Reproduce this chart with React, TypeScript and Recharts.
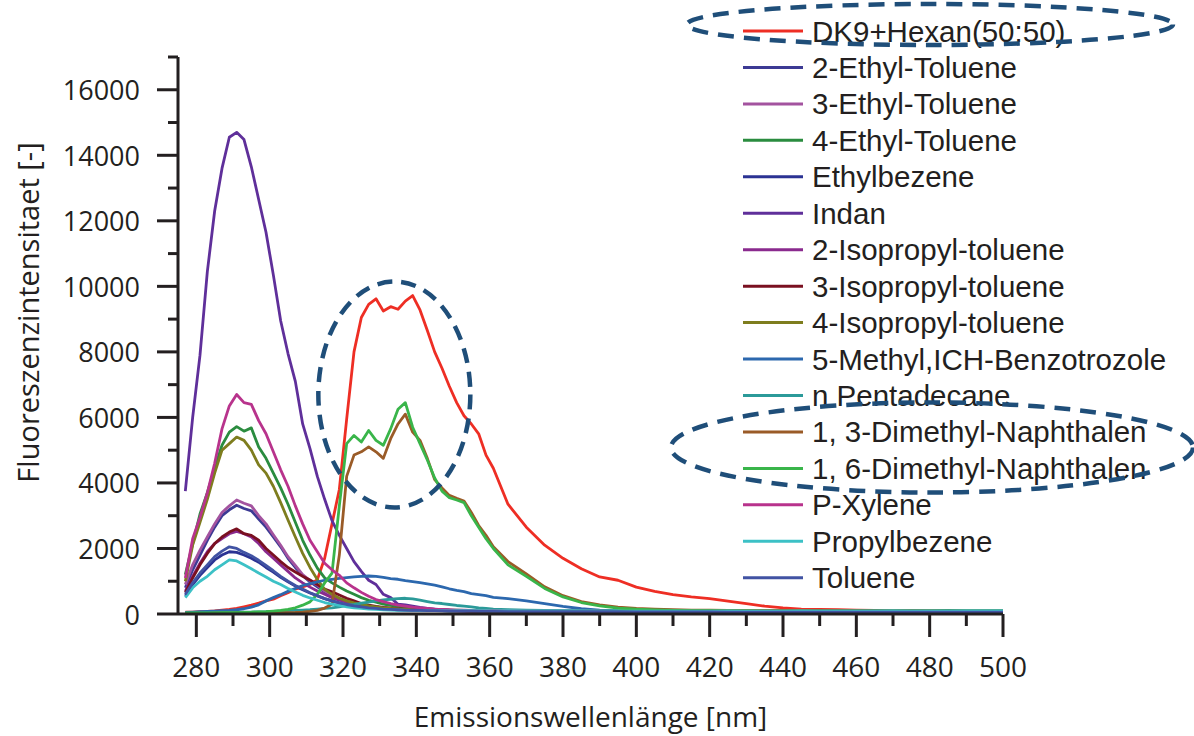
import React from 'react';
import { LineChart, Line, XAxis, YAxis, Legend, ReferenceDot } from 'recharts';

// Emission wavelength grid in nm: 2 nm steps across the bands, 5 nm steps in the tail
const wavelengths = [
  277, 279, 281, 283, 285, 287, 289, 291, 293, 295,
  297, 299, 301, 303, 305, 307, 309, 311, 313, 315,
  317, 319, 321, 323, 325, 327, 329, 331, 333, 335,
  337, 339, 341, 343, 345, 347, 349, 351, 353, 355,
  357, 359, 361,
  365, 370, 375, 380, 385, 390, 395, 400, 405, 410,
  415, 420, 425, 430, 435, 440, 445, 450, 455, 460,
  465, 470, 475, 480, 485, 490, 495, 500,
];

// Fluorescence intensity of each sample on the wavelength grid
const dk9Hexan = [
  60, 55, 70, 80, 95, 120, 140, 170, 220, 270,
  330, 400, 450, 560, 650, 760, 830, 900, 1050, 1700,
  2750, 3800, 5950, 8000, 9050, 9450, 9620, 9250, 9380, 9300,
  9550, 9720, 9280, 8650, 8000, 7500, 6950, 6450, 6050, 5800,
  5500, 4850, 4450,
  3350, 2650, 2100, 1700, 1380, 1130, 1030, 820, 690, 590,
  520, 470, 390, 320, 240, 185, 150, 140, 130, 120,
  110, 100, 100, 95, 90, 90, 85, 85,
];
const ethyl2Toluene = [
  800, 1350, 1800, 2250, 2650, 3000, 3180, 3320, 3220, 3150,
  2900, 2650, 2350, 2050, 1700, 1420, 1170, 980, 830, 680,
  560, 460, 390, 330, 280, 240, 210, 185, 165, 150,
  140, 130, 120, 115, 110, 105, 100, 100, 95, 95,
  90, 90, 90,
  85, 85, 80, 80, 80, 80, 75, 75, 75, 75,
  75, 70, 70, 70, 70, 70, 70, 70, 70, 70,
  70, 70, 70, 70, 70, 70, 70, 70,
];
const ethyl3Toluene = [
  900, 1500, 1950, 2350, 2750, 3100, 3300, 3480, 3380, 3300,
  3000, 2750, 2420, 2100, 1750, 1480, 1200, 1020, 880, 700,
  580, 480, 400, 340, 290, 250, 220, 190, 170, 155,
  145, 135, 125, 120, 115, 110, 105, 100, 100, 95,
  95, 90, 90,
  90, 85, 85, 85, 80, 80, 80, 80, 80, 75,
  75, 75, 75, 75, 75, 75, 75, 75, 75, 75,
  75, 75, 75, 75, 75, 75, 75, 75,
];
const ethyl4Toluene = [
  1200, 2150, 3050, 3700, 4450, 5150, 5550, 5720, 5580, 5680,
  5100, 4750, 4300, 3850, 3350, 2800, 2250, 1800, 1400, 1100,
  950, 820, 700, 600, 500, 420, 360, 300, 260, 230,
  200, 180, 160, 150, 140, 130, 120, 115, 110, 105,
  100, 100, 95,
  90, 90, 85, 85, 85, 80, 80, 80, 80, 80,
  80, 80, 80, 80, 80, 80, 80, 80, 80, 80,
  80, 80, 80, 80, 80, 80, 80, 80,
];
const ethylbezene = [
  550, 900, 1180, 1420, 1650, 1800, 1900, 1880, 1800, 1700,
  1580, 1420, 1280, 1120, 980, 850, 740, 640, 550, 470,
  400, 340, 290, 250, 220, 190, 170, 150, 140, 130,
  120, 115, 110, 105, 100, 100, 95, 95, 90, 90,
  90, 85, 85,
  80, 80, 80, 75, 75, 75, 70, 70, 70, 70,
  65, 65, 65, 65, 65, 65, 60, 60, 60, 60,
  60, 60, 60, 60, 60, 60, 60, 60,
];
const indan = [
  3750, 6000, 7900, 10450, 12300, 13600, 14550, 14700, 14480, 13650,
  12650, 11650, 10350, 8950, 7950, 7100, 5800, 5050, 4200, 3500,
  2850, 2400, 2000, 1600, 1300, 1030, 900, 600, 500, 300,
  280, 240, 200, 170, 150, 130, 115, 105, 100, 95,
  90, 90, 85,
  80, 80, 75, 75, 75, 70, 70, 70, 70, 70,
  70, 65, 65, 65, 65, 65, 65, 65, 65, 65,
  65, 65, 65, 65, 65, 65, 65, 65,
];
const isopropyl2Toluene = [
  700, 1150, 1550, 1900, 2150, 2300, 2450, 2520, 2450, 2350,
  2150, 1900, 1700, 1500, 1300, 1100, 950, 820, 700, 600,
  500, 420, 360, 300, 260, 220, 190, 170, 150, 140,
  130, 120, 115, 110, 105, 100, 100, 95, 95, 90,
  90, 90, 85,
  85, 80, 80, 80, 75, 75, 75, 75, 70, 70,
  70, 70, 70, 70, 70, 70, 70, 70, 70, 70,
  70, 70, 70, 70, 70, 70, 70, 70,
];
const isopropyl3Toluene = [
  650, 1100, 1500, 1850, 2150, 2350, 2500, 2600, 2450, 2400,
  2250, 2000, 1800, 1600, 1420, 1280, 1150, 1040, 900, 760,
  680, 580, 480, 400, 320, 270, 230, 200, 180, 160,
  150, 140, 130, 120, 115, 110, 105, 100, 100, 95,
  95, 90, 90,
  85, 85, 80, 80, 80, 75, 75, 75, 75, 70,
  70, 70, 70, 70, 70, 70, 70, 70, 70, 70,
  70, 70, 70, 70, 70, 70, 70, 70,
];
const isopropyl4Toluene = [
  1000, 2100, 2800, 3500, 4300, 5000, 5200, 5400, 5300, 5000,
  4550, 4300, 3900, 3400, 2870, 2350, 1850, 1420, 1050, 750,
  600, 480, 400, 340, 290, 250, 220, 190, 170, 155,
  145, 135, 125, 120, 115, 110, 105, 100, 100, 95,
  95, 90, 90,
  90, 85, 85, 80, 80, 80, 80, 75, 75, 75,
  75, 75, 75, 75, 75, 75, 75, 75, 75, 75,
  75, 75, 75, 75, 75, 75, 75, 75,
];
const methylBenzotrozole = [
  50, 60, 70, 80, 90, 100, 110, 130, 160, 210,
  280, 400, 500, 590, 690, 780, 870, 930, 980, 1030,
  1060, 1090, 1110, 1130, 1150, 1160, 1150, 1120, 1080, 1060,
  1020, 990, 960, 920, 880, 830, 770, 720, 680, 620,
  590, 560, 510,
  470, 400, 320, 230, 160, 120, 95, 85, 80, 75,
  75, 70, 70, 70, 70, 70, 70, 70, 70, 70,
  70, 70, 70, 70, 70, 70, 70, 70,
];
const nPentadecane = [
  30, 30, 35, 35, 40, 40, 45, 50, 55, 60,
  65, 70, 80, 90, 100, 110, 120, 130, 150, 170,
  190, 220, 260, 290, 330, 360, 400, 430, 450, 470,
  480, 460, 420, 380, 340, 320, 290, 260, 240, 220,
  190, 170, 150,
  135, 120, 110, 105, 100, 100, 100, 100, 105, 100,
  100, 100, 100, 105, 100, 100, 100, 105, 100, 100,
  105, 100, 100, 105, 110, 105, 105, 105,
];
const dimethylNaphthalene13 = [
  20, 20, 20, 20, 25, 25, 25, 30, 30, 30,
  30, 35, 35, 40, 45, 50, 60, 80, 110, 180,
  300, 1800, 4200, 4850, 4950, 5100, 4950, 4750, 5350, 5800,
  6100, 5550, 5300, 4750, 4100, 3850, 3620, 3530, 3450, 3100,
  2700, 2400, 2050,
  1600, 1220, 830, 560, 380, 280, 210, 170, 145, 130,
  120, 115, 110, 105, 100, 100, 100, 95, 95, 95,
  90, 90, 90, 90, 90, 90, 90, 90,
];
const dimethylNaphthalene16 = [
  30, 30, 30, 35, 35, 40, 40, 45, 50, 55,
  65, 75, 90, 110, 140, 190, 270, 370, 600, 950,
  1250, 3300, 5200, 5450, 5250, 5600, 5300, 5150, 5650, 6250,
  6450, 5700, 5200, 4700, 4150, 3750, 3550, 3480, 3400, 3000,
  2650, 2300, 2000,
  1500, 1150, 780, 520, 350, 250, 180, 145, 125, 110,
  105, 100, 95, 95, 90, 90, 90, 90, 90, 85,
  85, 85, 85, 85, 85, 85, 85, 85,
];
const pXylene = [
  1100, 2300, 2950, 3700, 4600, 5650, 6350, 6700, 6450, 6400,
  5900, 5500, 4950, 4400, 3900, 3300, 2750, 2250, 1900, 1550,
  1350, 1180, 950, 800, 660, 540, 440, 380, 320, 270,
  240, 210, 190, 170, 150, 140, 130, 120, 115, 110,
  105, 100, 100,
  95, 90, 90, 85, 85, 85, 80, 80, 80, 80,
  80, 75, 75, 75, 75, 75, 75, 75, 75, 75,
  75, 75, 75, 75, 75, 75, 75, 75,
];
const propylbezene = [
  500, 800, 1000, 1150, 1350, 1500, 1650, 1620, 1500, 1380,
  1250, 1130, 1000, 900, 780, 670, 570, 490, 420, 350,
  300, 260, 220, 190, 170, 150, 140, 130, 120, 115,
  110, 110, 105, 105, 100, 100, 95, 100, 100, 105,
  100, 100, 95,
  100, 95, 95, 95, 95, 90, 90, 90, 90, 90,
  90, 90, 95, 90, 90, 90, 95, 90, 90, 90,
  90, 95, 90, 90, 90, 95, 95, 95,
];
const toluene = [
  600, 950, 1250, 1500, 1750, 1920, 2050, 2000, 1880, 1780,
  1640, 1480, 1320, 1150, 1000, 870, 760, 650, 560, 470,
  400, 340, 290, 250, 220, 190, 170, 150, 140, 130,
  120, 115, 110, 105, 100, 95, 90, 90, 85, 85,
  80, 80, 80,
  75, 75, 75, 70, 70, 70, 70, 65, 65, 65,
  65, 65, 60, 60, 60, 60, 60, 60, 60, 60,
  60, 60, 60, 60, 60, 60, 60, 60,
];

// Axis ticks: labelled majors and unlabelled minors
const xMajorTicks = [280, 300, 320, 340, 360, 380, 400, 420, 440, 460, 480, 500];
const xMinorTicks = [290, 310, 330, 350, 370, 390, 410, 430, 450, 470, 490];
const yMajorTicks = [0, 2000, 4000, 6000, 8000, 10000, 12000, 14000, 16000];
const yMinorTicks = [1000, 3000, 5000, 7000, 9000, 11000, 13000, 15000, 17000];

const xTitle = 'Emissionswellenlänge [nm]';
const yTitle = 'Fluoreszenzintensitaet [-]';

// Series definitions in legend / drawing order
const SERIES = [
  { key: 'dk9', name: 'DK9+Hexan(50:50)', color: '#ee2e24', values: dk9Hexan },
  { key: 'et2', name: '2-Ethyl-Toluene', color: '#3c3a94', values: ethyl2Toluene },
  { key: 'et3', name: '3-Ethyl-Toluene', color: '#a3539f', values: ethyl3Toluene },
  { key: 'et4', name: '4-Ethyl-Toluene', color: '#2a8c3f', values: ethyl4Toluene },
  { key: 'eb', name: 'Ethylbezene', color: '#2b3393', values: ethylbezene },
  { key: 'ind', name: 'Indan', color: '#5f2f9a', values: indan },
  { key: 'ip2', name: '2-Isopropyl-toluene', color: '#8a2a8e', values: isopropyl2Toluene },
  { key: 'ip3', name: '3-Isopropyl-toluene', color: '#7a1020', values: isopropyl3Toluene },
  { key: 'ip4', name: '4-Isopropyl-toluene', color: '#7e7d1e', values: isopropyl4Toluene },
  { key: 'mbt', name: '5-Methyl,ICH-Benzotrozole', color: '#2c68ae', values: methylBenzotrozole },
  { key: 'pd', name: 'n Pentadecane', color: '#2b9a99', values: nPentadecane },
  { key: 'dmn13', name: '1, 3-Dimethyl-Naphthalen', color: '#9a5b27', values: dimethylNaphthalene13 },
  { key: 'dmn16', name: '1, 6-Dimethyl-Naphthalen', color: '#39b54a', values: dimethylNaphthalene16 },
  { key: 'px', name: 'P-Xylene', color: '#b8338c', values: pXylene },
  { key: 'pb', name: 'Propylbezene', color: '#3cc1c6', values: propylbezene },
  { key: 'tol', name: 'Toluene', color: '#4153a3', values: toluene },
];

const rows = wavelengths.map((nm, i) => {
  const row: Record<string, number> = { nm };
  SERIES.forEach((s) => {
    row[s.key] = s.values[i];
  });
  return row;
});

const xTicks = [...xMajorTicks, ...xMinorTicks].sort((a, b) => a - b);
const yTicks = [...yMajorTicks, ...yMinorTicks].sort((a, b) => a - b);

const INK = '#231f20';
const MARK = '#1f4e79';
const AXIS_FONT = "'Open Sans', 'DejaVu Sans', sans-serif";
const LEGEND_FONT = "'Liberation Sans', Arial, sans-serif";

const renderXTick = (props: any) => {
  const { x, y, payload } = props;
  const major = xMajorTicks.includes(payload.value);
  return (
    <g>
      <line x1={x} x2={x} y1={y} y2={y + (major ? 23 : 12)} stroke={INK} strokeWidth={3} />
      {major && (
        <text x={x} y={y + 52} textAnchor="middle" dominantBaseline="central"
          fontFamily={AXIS_FONT} fontSize={28} fill={INK}>
          {payload.value}
        </text>
      )}
    </g>
  );
};

const renderYTick = (props: any) => {
  const { x, y, payload } = props;
  const major = yMajorTicks.includes(payload.value);
  return (
    <g>
      <line x1={x - (major ? 21 : 10)} x2={x} y1={y} y2={y} stroke={INK} strokeWidth={3} />
      {major && (
        <text x={x - 38} y={y} textAnchor="end" dominantBaseline="central"
          fontFamily={AXIS_FONT} fontSize={27} fill={INK}>
          {payload.value}
        </text>
      )}
    </g>
  );
};

const renderYTitle = (props: any) => {
  const vb = props.viewBox || { x: 0, y: 0, width: 0, height: 0 };
  const cx = vb.x + 27;
  const cy = vb.y + vb.height / 2 - 23;
  return (
    <text transform={`translate(${cx},${cy}) rotate(-90)`} textAnchor="middle" dominantBaseline="central"
      fontFamily={AXIS_FONT} fontSize={29} fill={INK}>
      {yTitle}
    </text>
  );
};

// Legend row geometry
const ROW_TOP = 31;
const ROW_STEP = 36.45;
const rowY = (i: number) => ROW_TOP + i * ROW_STEP;

const SpectraLegend = (props: any) => {
  const payload: any[] = props.payload || [];
  const ordered = SERIES.map((s) => payload.find((p) => p.dataKey === s.key) || { value: s.name, color: s.color });
  return (
    <svg width={1194} height={736} style={{ position: 'absolute', left: 0, top: 0, overflow: 'visible' }}>
      {ordered.map((item: any, i: number) => (
        <g key={item.value}>
          <line x1={743} x2={803} y1={rowY(i)} y2={rowY(i)} stroke={item.color} strokeWidth={3} />
          <text x={812} y={rowY(i) + 10.5} fontFamily={LEGEND_FONT} fontSize={29.5} fill={INK}>
            {item.value}
          </text>
        </g>
      ))}
      <ellipse cx={930} cy={rowY(0) - 6.5} rx={243} ry={20.5} fill="none"
        stroke={MARK} strokeWidth={4.5} strokeDasharray="16 10" />
      <ellipse cx={932} cy={(rowY(11) + rowY(12)) / 2 - 2.7} rx={261} ry={45} fill="none"
        stroke={MARK} strokeWidth={4.5} strokeDasharray="16 10" />
    </svg>
  );
};

const highlightShape = (props: any) => (
  <ellipse cx={props.cx} cy={props.cy} rx={76} ry={113} fill="none"
    stroke={MARK} strokeWidth={4.5} strokeDasharray="15 9" />
);

export default function App() {
  return (
    <div style={{ position: 'absolute', left: 0, top: 0, width: 1194, height: 736, background: '#ffffff' }}>
      <LineChart width={1194} height={736} data={rows} margin={{ top: 57, right: 191, bottom: 0, left: 0 }}>
        <XAxis
          dataKey="nm"
          type="number"
          domain={[275, 500]}
          ticks={xTicks}
          interval={0}
          tickSize={0}
          tickMargin={0}
          tickLine={false}
          axisLine={{ stroke: INK, strokeWidth: 3 }}
          tick={renderXTick}
          height={122}
          label={{ value: xTitle, position: 'insideBottom', offset: 9, fill: INK, fontSize: 28, fontFamily: AXIS_FONT }}
        />
        <YAxis
          type="number"
          domain={[0, 17000]}
          ticks={yTicks}
          interval={0}
          tickSize={0}
          tickMargin={0}
          tickLine={false}
          axisLine={{ stroke: INK, strokeWidth: 3 }}
          tick={renderYTick}
          width={178}
          label={{ value: yTitle, content: renderYTitle }}
        />
        {SERIES.map((s) => (
          <Line
            key={s.key}
            dataKey={s.key}
            name={s.name}
            type="linear"
            stroke={s.color}
            strokeWidth={2.8}
            strokeLinejoin="round"
            dot={false}
            activeDot={false}
            isAnimationActive={false}
          />
        ))}
        <ReferenceDot x={334} y={6700} r={0} ifOverflow="visible" shape={highlightShape} />
        <Legend
          layout="vertical"
          align="center"
          verticalAlign="middle"
          content={<SpectraLegend />}
          wrapperStyle={{ left: 0, top: 0, width: 1194, height: 736, pointerEvents: 'none' }}
        />
      </LineChart>
    </div>
  );
}
